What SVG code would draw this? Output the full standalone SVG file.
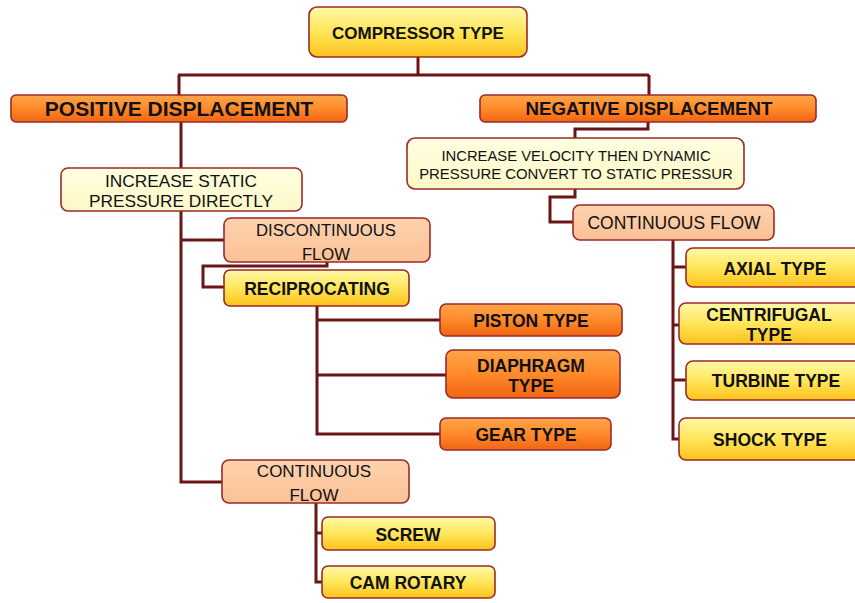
<svg xmlns="http://www.w3.org/2000/svg" width="855" height="603" viewBox="0 0 855 603">
<defs>
<linearGradient id="gy" x1="0" y1="0" x2="0" y2="1">
<stop offset="0" stop-color="#fff8a8"/><stop offset="0.5" stop-color="#ffe65a"/><stop offset="1" stop-color="#fcc21c"/>
</linearGradient>
<linearGradient id="go" x1="0" y1="0" x2="0" y2="1">
<stop offset="0" stop-color="#ffa54a"/><stop offset="0.5" stop-color="#ff8a2a"/><stop offset="1" stop-color="#f06412"/>
</linearGradient>
<linearGradient id="gp" x1="0" y1="0" x2="0" y2="1">
<stop offset="0" stop-color="#fdd2ae"/><stop offset="1" stop-color="#fbc196"/>
</linearGradient>
<linearGradient id="gl" x1="0" y1="0" x2="0" y2="1">
<stop offset="0" stop-color="#ffffe0"/><stop offset="1" stop-color="#fdf8c8"/>
</linearGradient>
</defs>
<style>
.box{stroke:#9b2a2a;stroke-width:1.6}
.y{fill:url(#gy)}.o{fill:url(#go)}.p{fill:url(#gp)}.l{fill:url(#gl)}
text{font-family:"Liberation Sans",Arial,sans-serif;fill:#111;text-anchor:middle}
.b{font-weight:bold;font-size:17.5px}
.c{fill:none;stroke:#6b1414;stroke-width:3}
</style>
<g id="connectors">
<path class="c" d="M418 57V75M178 75H649M179 75V95M649 75V95"/>
<path class="c" d="M181 122V482H222M181 240H224"/>
<path class="c" d="M327 262V266H203V287H224"/>
<path class="c" d="M317 306V434H440M317 320H440M317 375H446"/>
<path class="c" d="M316 503V582H322M316 533H322"/>
<path class="c" d="M648 122V129H575V138"/>
<path class="c" d="M575 189V197H550V222H573"/>
<path class="c" d="M673 240V439H679M673 267H686M673 325H679M673 380H686"/>
</g>
<g id="compressor-type"><rect class="box y" x="309" y="7" width="218" height="50" rx="8"/><text class="b" x="418" y="39" style="font-size:17px">COMPRESSOR TYPE</text></g>
<g id="positive-displacement"><rect class="box o" x="11" y="95" width="336" height="27" rx="5"/><text class="b" x="179" y="116" style="font-size:21px">POSITIVE DISPLACEMENT</text></g>
<g id="negative-displacement"><rect class="box o" x="480" y="95" width="336" height="27" rx="5"/><text class="b" x="649" y="115" style="font-size:18.7px">NEGATIVE DISPLACEMENT</text></g>
<g id="increase-static"><rect class="box l" x="61" y="168" width="241" height="43" rx="7"/><text x="181" y="187" font-size="17.3">INCREASE STATIC</text><text x="181" y="207" font-size="17.3">PRESSURE DIRECTLY</text></g>
<g id="increase-velocity"><rect class="box l" x="407" y="138" width="337" height="51" rx="8"/><text x="576" y="161" font-size="14.8">INCREASE VELOCITY THEN DYNAMIC</text><text x="576" y="179" font-size="14.9">PRESSURE CONVERT TO STATIC PRESSUR</text></g>
<g id="discontinuous-flow"><rect class="box p" x="224" y="218" width="206" height="44" rx="7"/><text x="326" y="236" font-size="16.7">DISCONTINUOUS</text><text x="326" y="260" font-size="16.7">FLOW</text></g>
<g id="reciprocating"><rect class="box y" x="224" y="270" width="185" height="36" rx="6"/><text class="b" x="317" y="295">RECIPROCATING</text></g>
<g id="piston-type"><rect class="box o" x="440" y="304" width="182" height="32" rx="6"/><text class="b" x="531" y="327">PISTON TYPE</text></g>
<g id="diaphragm-type"><rect class="box o" x="446" y="350" width="174" height="48" rx="7"/><text class="b" x="531" y="372">DIAPHRAGM</text><text class="b" x="531" y="392">TYPE</text></g>
<g id="gear-type"><rect class="box o" x="440" y="418" width="171" height="32" rx="6"/><text class="b" x="526" y="441">GEAR TYPE</text></g>
<g id="continuous-flow-left"><rect class="box p" x="222" y="460" width="187" height="43" rx="7"/><text x="314" y="477" font-size="17">CONTINUOUS</text><text x="314" y="501" font-size="17">FLOW</text></g>
<g id="screw"><rect class="box y" x="322" y="517" width="173" height="33" rx="6"/><text class="b" x="408" y="541">SCREW</text></g>
<g id="cam-rotary"><rect class="box y" x="322" y="566" width="173" height="32" rx="6"/><text class="b" x="408" y="589">CAM ROTARY</text></g>
<g id="continuous-flow-right"><rect class="box p" x="573" y="205" width="201" height="35" rx="7"/><text x="674" y="229" font-size="17.5">CONTINUOUS FLOW</text></g>
<g id="axial-type"><rect class="box y" x="686" y="248" width="175" height="39" rx="7"/><text class="b" x="775" y="275">AXIAL TYPE</text></g>
<g id="centrifugal-type"><rect class="box y" x="679" y="303" width="182" height="41" rx="7"/><text class="b" x="769" y="321">CENTRIFUGAL</text><text class="b" x="769" y="341">TYPE</text></g>
<g id="turbine-type"><rect class="box y" x="686" y="361" width="175" height="39" rx="7"/><text class="b" x="776" y="387">TURBINE TYPE</text></g>
<g id="shock-type"><rect class="box y" x="679" y="418" width="182" height="42" rx="7"/><text class="b" x="770" y="446">SHOCK TYPE</text></g>
</svg>
